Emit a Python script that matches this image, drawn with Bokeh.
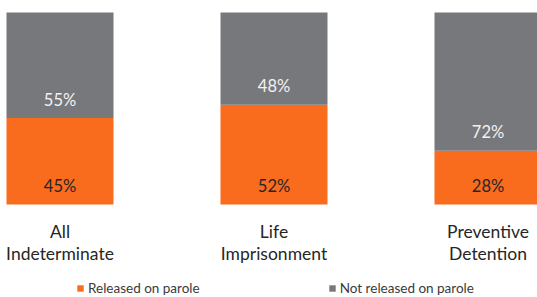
from bokeh.plotting import figure
from bokeh.models import ColumnDataSource, Range1d, Legend, LegendItem
from bokeh.core.properties import value
from bokeh.embed import file_html
from bokeh.resources import INLINE

# ---- data ----
categories = ["All\nIndeterminate", "Life\nImprisonment", "Preventive\nDetention"]
released = [45, 52, 28]
not_released = [55, 48, 72]
series_names = ["Released on parole", "Not released on parole"]

# ---- style ----
ORANGE = "#F96B1D"
GRAY = "#77787B"
FONT = "Lato"
W, H = 537, 297
PX_PER_CAT = 214.0
PX_PER_PCT = 1.92
LABEL_PAD = 9.6      # % units above segment base
CAT_PAD = 8.6        # % units below the bars

x = list(range(len(categories)))
tops1 = list(released)
tops2 = [a + b for a, b in zip(released, not_released)]

src = ColumnDataSource(dict(
    x=x, cat=categories,
    b1=[0] * len(x), t1=tops1, t2=tops2,
    lab1=[f"{v}%" for v in released],
    lab2=[f"{v}%" for v in not_released],
    y1=[LABEL_PAD for _ in x],
    y2=[t + LABEL_PAD for t in tops1],
    ycat=[-CAT_PAD for _ in x],
))

x_start = -59.5 / PX_PER_CAT
x_end = x_start + W / PX_PER_CAT
y_end = 100 + 12 / PX_PER_PCT
y_start = y_end - H / PX_PER_PCT

p = figure(width=W, height=H, x_range=Range1d(x_start, x_end),
           y_range=Range1d(y_start, y_end), output_backend="svg",
           toolbar_location=None, min_border=0)
p.axis.visible = False
p.grid.visible = False
p.outline_line_color = None
p.background_fill_color = "white"

r1 = p.vbar(x="x", bottom="b1", top="t1", width=0.5, source=src,
            fill_color=ORANGE, line_color=None)
r2 = p.vbar(x="x", bottom="t1", top="t2", width=0.5, source=src,
            fill_color=GRAY, line_color=None)

p.text(x="x", y="y1", text="lab1", source=src, text_align="center",
       text_baseline="middle", text_font=value(FONT), text_font_size="16.5px",
       text_color="#262626")
p.text(x="x", y="y2", text="lab2", source=src, text_align="center",
       text_baseline="middle", text_font=value(FONT), text_font_size="16.5px",
       text_color="#F2F2F2")
p.text(x="x", y="ycat", text="cat", source=src, text_align="center",
       text_baseline="top", text_font=value(FONT), text_font_size="17.5px",
       text_color="#262626", text_line_height=1.05)

legend = Legend(items=[LegendItem(label=series_names[0], renderers=[r1]),
                       LegendItem(label=series_names[1], renderers=[r2])],
                orientation="horizontal", location=(76, 1),
                glyph_width=8, glyph_height=8, label_standoff=4,
                label_width=111, spacing=128, padding=0, margin=0,
                border_line_color=None, background_fill_alpha=0,
                label_text_font=FONT, label_text_font_size="13.5px",
                label_text_color="#3a3a3a", label_height=14)
p.add_layout(legend)

open("out.html", "w").write(file_html(p, INLINE))
